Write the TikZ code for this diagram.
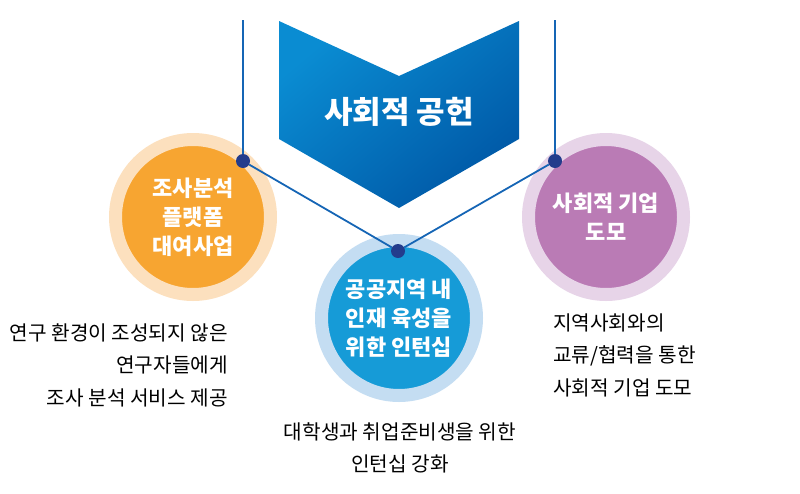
\documentclass[tikz,border=0pt]{standalone}
\usepackage{fontspec}
\setmainfont{Noto Sans CJK KR}
\definecolor{chevA}{HTML}{0A8CD2}
\definecolor{chevB}{HTML}{0058A6}
\definecolor{lineblue}{HTML}{1565B5}
\definecolor{dotnavy}{HTML}{233C8C}
\definecolor{orcore}{HTML}{F7A531}
\definecolor{orring}{HTML}{FCE0BE}
\definecolor{blcore}{HTML}{169BD7}
\definecolor{blring}{HTML}{C4DDF2}
\definecolor{pucore}{HTML}{BA7BB5}
\definecolor{puring}{HTML}{E7D4E8}
\tikzset{
  bubble/.style={circle, inner sep=0pt, minimum size=155pt, line width=13pt,
    text=white, align=center, font=\bfseries\fontsize{22}{29}\selectfont},
  joint/.style={circle, fill=dotnavy, inner sep=0pt, minimum size=14pt},
  link/.style={lineblue, line width=1.8pt},
  caption/.style={font=\fontsize{20.2}{32.5}\selectfont, inner sep=0pt}
}
\begin{document}
\begin{tikzpicture}[x=1pt, y=-1pt, line join=round]
			\useasboundingbox (0,0) rectangle (800,493);
			
			% 가운데 화살표 모양
			\shade[top color=chevA, bottom color=chevB, shading angle=40]
			  (279,21) -- (399,76) -- (519,21) -- (519,139) -- (399,208) -- (279,139) -- cycle;
			\node[text=white, font=\bfseries\fontsize{31}{33}\selectfont] (title) at (399,112) {사회적 공헌};
			
			% 세 개의 원
			\node[bubble, fill=orcore, draw=orring] (left) at (193,217) {조사분석\\플랫폼\\대여사업};
			\node[bubble, fill=blcore, draw=blring] (mid) at (399,318) {공공지역 내\\인재 육성을\\위한 인턴십};
			\node[bubble, fill=pucore, draw=puring] (right) at (606,217) {사회적 기업\\도모};
			
			% 연결점과 선
			\coordinate (topl) at (243,20);
			\coordinate (topr) at (555,20);
			\node[joint] (jl) at (243,161) {};
			\node[joint] (jr) at (555,161) {};
			\node[joint] (jm) at (398,251) {};
			\draw[link] (topl) -- (jl);
			\draw[link] (topr) -- (jr);
			\draw[link] (jl) -- (jm);
			\draw[link] (jr) -- (jm);
			
			% 설명 글
			\node[caption, align=right, anchor=east] (capl) at (228,365) {연구 환경이 조성되지 않은\\연구자들에게\\조사 분석 서비스 제공};
			\node[caption, align=center] (capm) at (400,448) {대학생과 취업준비생을 위한\\인턴십 강화};
			\node[caption, align=left, anchor=west] (capr) at (553,355) {지역사회와의\\교류/협력을 통한\\사회적 기업 도모};
		\end{tikzpicture}
\end{document}
